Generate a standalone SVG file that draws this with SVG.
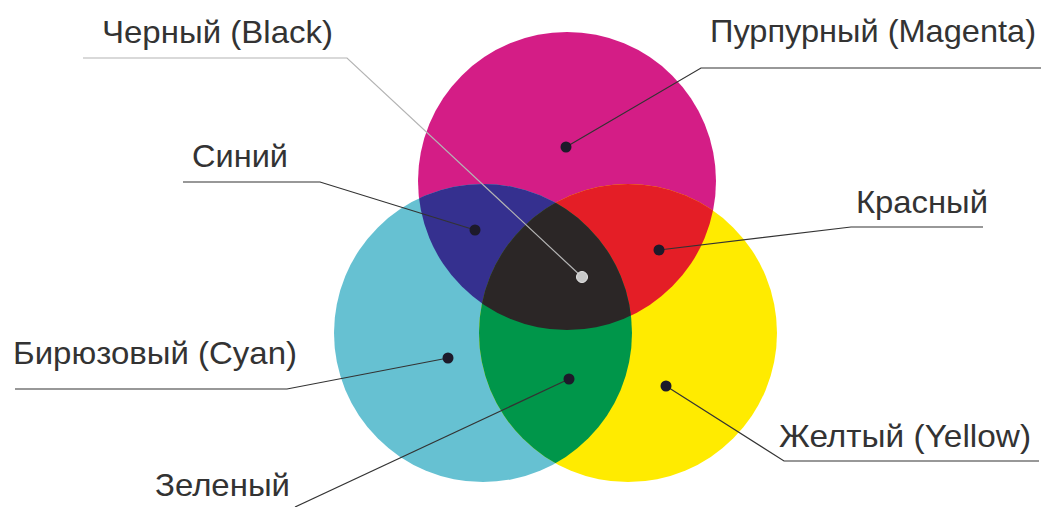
<svg xmlns="http://www.w3.org/2000/svg" width="1052" height="507" viewBox="0 0 1052 507">
  <style>
    .lbl { font-family: "Liberation Sans", Arial, sans-serif; font-size: 32px; fill: #333333; }
    .lead { fill: none; stroke: #333333; stroke-width: 1.2; }
    .leadL { fill: none; stroke: #b4b4b4; stroke-width: 1.2; }
    .dot { fill: #1d1a2a; }
  </style>
  <defs>
    <clipPath id="clipM"><circle cx="567" cy="181" r="149"/></clipPath>
    <clipPath id="clipC"><circle cx="483" cy="333" r="149"/></clipPath>
  </defs>
  <g id="magenta"><circle cx="567" cy="181" r="149" fill="#D41D86"/></g>
  <g id="cyan"><circle cx="483" cy="333" r="149" fill="#66C1D2"/></g>
  <g id="yellow"><circle cx="628" cy="333" r="149" fill="#FFEB00"/></g>
  <g id="blue"><circle cx="483" cy="333" r="149" fill="#35308F" clip-path="url(#clipM)"/></g>
  <g id="red"><circle cx="628" cy="333" r="149" fill="#E41E26" clip-path="url(#clipM)"/></g>
  <g id="green"><circle cx="628" cy="333" r="149" fill="#00964A" clip-path="url(#clipC)"/></g>
  <g id="black"><g clip-path="url(#clipC)"><circle cx="628" cy="333" r="149" fill="#2B2626" clip-path="url(#clipM)"/></g></g>
  <g id="connectors">
    <polyline class="leadL" points="83,58 347,58 582,277"/>
    <polyline class="lead" points="183,182 320,182 475,230"/>
    <polyline class="lead" points="566,147 701,68 1041,68"/>
    <polyline class="lead" points="659,250 851,227 983,227"/>
    <polyline class="lead" points="448,358 287,389 15,389"/>
    <polyline class="lead" points="569,379 295,507"/>
    <polyline class="lead" points="666,386 784,461 1039,461"/>
  </g>
  <g id="dots">
    <circle class="dot" cx="566" cy="147" r="5.5"/>
    <circle class="dot" cx="475" cy="230" r="5.5"/>
    <circle cx="582" cy="277" r="5.5" fill="#c8c8c8" stroke="#e6e6e6" stroke-width="1"/>
    <circle class="dot" cx="659" cy="250" r="5.5"/>
    <circle class="dot" cx="448" cy="358" r="5.5"/>
    <circle class="dot" cx="569" cy="379" r="5.5"/>
    <circle class="dot" cx="666" cy="386" r="5.5"/>
  </g>
  <g id="labels">
    <text class="lbl" x="102" y="43" textLength="231" lengthAdjust="spacingAndGlyphs">Черный (Black)</text>
    <text class="lbl" x="192" y="167" textLength="96" lengthAdjust="spacingAndGlyphs">Синий</text>
    <text class="lbl" x="710" y="42" textLength="326" lengthAdjust="spacingAndGlyphs">Пурпурный (Magenta)</text>
    <text class="lbl" x="856" y="213" textLength="132" lengthAdjust="spacingAndGlyphs">Красный</text>
    <text class="lbl" x="13" y="364" textLength="284" lengthAdjust="spacingAndGlyphs">Бирюзовый (Cyan)</text>
    <text class="lbl" x="155" y="496" textLength="135" lengthAdjust="spacingAndGlyphs">Зеленый</text>
    <text class="lbl" x="779" y="447" textLength="252" lengthAdjust="spacingAndGlyphs">Желтый (Yellow)</text>
  </g>
</svg>
